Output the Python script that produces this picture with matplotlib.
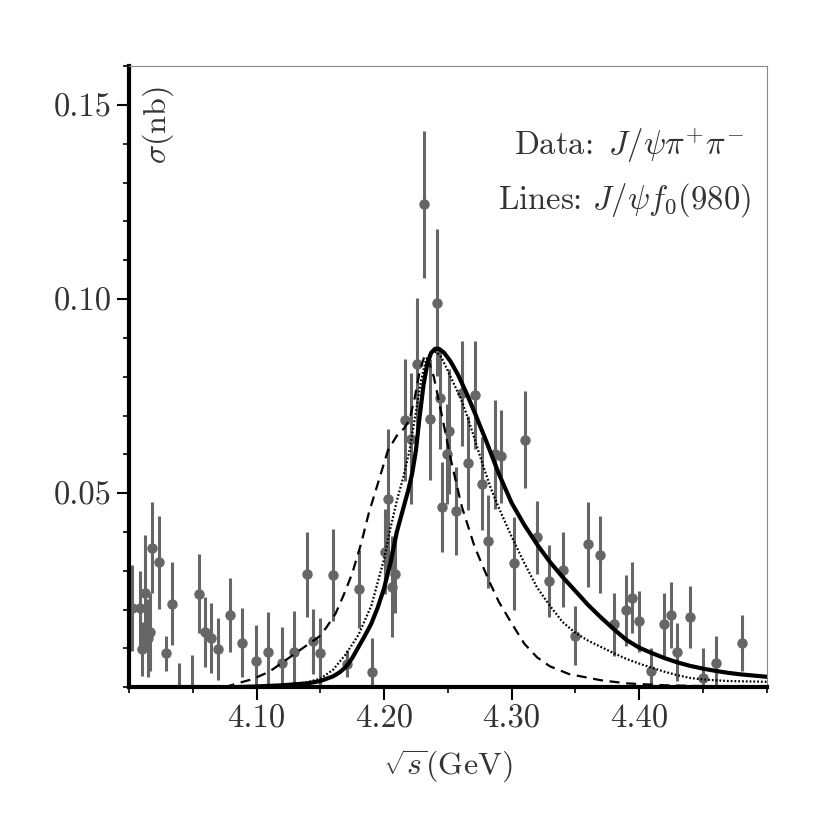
import matplotlib
matplotlib.use("Agg")
import matplotlib.pyplot as plt
from matplotlib.ticker import MultipleLocator

plt.rcParams["mathtext.fontset"] = "cm"
plt.rcParams["font.family"] = "serif"
plt.rcParams["font.serif"] = ["cmr10", "DejaVu Serif"]
plt.rcParams["axes.unicode_minus"] = False

# -----------------------------
# datos: J/psi pi+ pi-
# -----------------------------
x_data = [4.0027, 4.0089, 4.0102, 4.0128, 4.0148, 4.0162, 4.0183, 4.0233, 4.0290, 4.0337,
          4.0392, 4.0493, 4.0548, 4.0592, 4.0640, 4.0698, 4.0794, 4.0888, 4.0995, 4.1092,
          4.1196, 4.1290, 4.1398, 4.1442, 4.1494, 4.1598, 4.1706, 4.1806, 4.1905, 4.2008,
          4.2034, 4.2062, 4.2089, 4.2163, 4.2210, 4.2255, 4.2310, 4.2363, 4.2417, 4.2438,
          4.2458, 4.2495, 4.2511, 4.2568, 4.2614, 4.2659, 4.2712, 4.2771, 4.2817, 4.2870,
          4.2914, 4.3018, 4.3104, 4.3201, 4.3295, 4.3405, 4.3499, 4.3603, 4.3697, 4.3805,
          4.3901, 4.3948, 4.4003, 4.4095, 4.4199, 4.4249, 4.4296, 4.4403, 4.4500, 4.4604,
          4.4808]
y_data = [0.0204, 0.0204, 0.0098, 0.0243, 0.0127, 0.0143, 0.0359, 0.0322, 0.0087, 0.0215,
          -0.0030, -0.0030, 0.0241, 0.0143, 0.0127, 0.0099, 0.0186, 0.0115, 0.0068, 0.0091,
          0.0063, 0.0091, 0.0291, 0.0118, 0.0088, 0.0289, 0.0061, 0.0253, 0.0038, 0.0349,
          0.0485, 0.0259, 0.0291, 0.0689, 0.0640, 0.0833, 0.1244, 0.0690, 0.0991, 0.0744,
          0.0464, 0.0600, 0.0659, 0.0454, 0.0757, 0.0578, 0.0753, 0.0524, 0.0376, 0.0600,
          0.0595, 0.0319, 0.0637, 0.0386, 0.0273, 0.0303, 0.0133, 0.0368, 0.0341, 0.0162,
          0.0198, 0.0231, 0.0170, 0.0042, 0.0162, 0.0186, 0.0091, 0.0181, 0.0024, 0.0063,
          0.0115]
y_err = [0.0110, 0.0095, 0.0070, 0.0150, 0.0100, 0.0100, 0.0117, 0.0120, 0.0045, 0.0107,
         0.0093, 0.0112, 0.0101, 0.0090, 0.0090, 0.0080, 0.0095, 0.0088, 0.0093, 0.0102,
         0.0093, 0.0105, 0.0110, 0.0083, 0.0090, 0.0118, 0.0035, 0.0100, 0.0088, 0.0110,
         0.0180, 0.0130, 0.0100, 0.0157, 0.0169, 0.0170, 0.0190, 0.0155, 0.0190, 0.0130,
         0.0116, 0.0129, 0.0160, 0.0114, 0.0135, 0.0122, 0.0138, 0.0120, 0.0120, 0.0140,
         0.0120, 0.0120, 0.0125, 0.0095, 0.0093, 0.0097, 0.0075, 0.0110, 0.0099, 0.0082,
         0.0091, 0.0092, 0.0079, 0.0059, 0.0082, 0.0084, 0.0075, 0.0081, 0.0077, 0.0068,
         0.0072]

# -----------------------------
# lineas: J/psi f0(980)
# -----------------------------
x_solid = [4.080, 4.100, 4.120, 4.140, 4.150, 4.160, 4.165, 4.170, 4.175, 4.180, 4.185,
           4.190, 4.195, 4.200, 4.205, 4.210, 4.215, 4.219, 4.222, 4.225, 4.228, 4.231,
           4.234, 4.237, 4.240, 4.243, 4.247, 4.252, 4.258, 4.265, 4.272, 4.280, 4.290,
           4.300, 4.310, 4.320, 4.330, 4.340, 4.350, 4.360, 4.370, 4.380, 4.390, 4.400,
           4.410, 4.420, 4.430, 4.440, 4.450, 4.460, 4.470, 4.480, 4.490, 4.500]
y_solid = [0.0000, 0.0002, 0.0005, 0.0010, 0.0016, 0.0028, 0.0038, 0.0052, 0.0075, 0.0104,
           0.0133, 0.0164, 0.0205, 0.0255, 0.0320, 0.0400, 0.0460, 0.0508, 0.0550, 0.0610,
           0.0700, 0.0780, 0.0835, 0.0862, 0.0872, 0.0872, 0.0862, 0.0840, 0.0805, 0.0755,
           0.0700, 0.0635, 0.0550, 0.0475, 0.0418, 0.0368, 0.0323, 0.0284, 0.0248, 0.0212,
           0.0180, 0.0150, 0.0122, 0.0102, 0.0088, 0.0075, 0.0064, 0.0055, 0.0048, 0.0042,
           0.0037, 0.0033, 0.0030, 0.0027]

x_dotted = [4.100, 4.120, 4.140, 4.150, 4.160, 4.170, 4.180, 4.185, 4.190, 4.195, 4.200,
            4.205, 4.210, 4.215, 4.220, 4.225, 4.229, 4.233, 4.237, 4.241, 4.245, 4.250,
            4.255, 4.260, 4.265, 4.270, 4.277, 4.284, 4.290, 4.300, 4.310, 4.320, 4.330,
            4.340, 4.350, 4.360, 4.370, 4.380, 4.390, 4.400, 4.410, 4.420, 4.430, 4.440,
            4.450, 4.470, 4.500]
y_dotted = [0.0002, 0.0005, 0.0013, 0.0022, 0.0045, 0.0085, 0.0135, 0.0173, 0.0210, 0.0270,
            0.0330, 0.0410, 0.0480, 0.0540, 0.0610, 0.0710, 0.0790, 0.0845, 0.0862, 0.0864,
            0.0850, 0.0815, 0.0780, 0.0745, 0.0700, 0.0650, 0.0577, 0.0510, 0.0462, 0.0388,
            0.0320, 0.0257, 0.0210, 0.0168, 0.0140, 0.0120, 0.0104, 0.0088, 0.0073, 0.0061,
            0.0050, 0.0040, 0.0031, 0.0024, 0.0020, 0.0016, 0.0014]

x_dashed = [4.075, 4.085, 4.097, 4.110, 4.123, 4.135, 4.149, 4.155, 4.162, 4.168, 4.175,
            4.182, 4.188, 4.196, 4.203, 4.210, 4.216, 4.220, 4.224, 4.228, 4.232, 4.235,
            4.239, 4.245, 4.253, 4.261, 4.271, 4.282, 4.290, 4.300, 4.310, 4.320, 4.330,
            4.345, 4.370, 4.390, 4.420, 4.450, 4.500]
y_dashed = [0.0000, 0.0010, 0.0021, 0.0040, 0.0070, 0.0098, 0.0130, 0.0155, 0.0190, 0.0235,
            0.0293, 0.0370, 0.0448, 0.0534, 0.0610, 0.0648, 0.0668, 0.0690, 0.0745, 0.0815,
            0.0856, 0.0840, 0.0800, 0.0705, 0.0577, 0.0465, 0.0362, 0.0276, 0.0220, 0.0165,
            0.0112, 0.0077, 0.0054, 0.0034, 0.0018, 0.0010, 0.0005, 0.0003, 0.0002]

x_ticks = [4.10, 4.20, 4.30, 4.40]
x_ticklabels = ["4.10", "4.20", "4.30", "4.40"]
y_ticks = [0.05, 0.10, 0.15]
y_ticklabels = ["0.05", "0.10", "0.15"]

# -----------------------------
# grafica
# -----------------------------
fig = plt.figure(figsize=(8.27, 8.27), dpi=100)
ax = fig.add_axes([0.156, 0.169, 0.771, 0.751])

ax.errorbar(x_data, y_data, yerr=y_err, fmt="o", color="#666666", ms=6.5,
            elinewidth=2.2, capsize=0, zorder=2)

ax.plot(x_dashed, y_dashed, color="black", lw=1.6, dashes=(4.5, 3), zorder=3)
ax.plot(x_dotted, y_dotted, color="black", lw=1.6, dashes=(0.8, 0.9), zorder=3)
ax.plot(x_solid, y_solid, color="black", lw=3.0, zorder=4)

ax.set_xlim(4.0, 4.5)
ax.set_ylim(0.0, 0.16)

ax.set_xticks(x_ticks)
ax.set_xticklabels(x_ticklabels)
ax.set_yticks(y_ticks)
ax.set_yticklabels(y_ticklabels)
ax.xaxis.set_minor_locator(MultipleLocator(0.05))
ax.yaxis.set_minor_locator(MultipleLocator(0.01))
ax.tick_params(which="major", direction="out", length=9, width=1.5, labelsize=23.5,
               colors="black", labelcolor="#333333")
ax.tick_params(which="minor", direction="out", length=4, width=1.2)

for lado in ["left", "bottom"]:
    ax.spines[lado].set_linewidth(3)
    ax.spines[lado].set_color("black")
for lado in ["top", "right"]:
    ax.spines[lado].set_linewidth(0.8)
    ax.spines[lado].set_color("#888888")

ax.text(0.046, 0.968, r"$\sigma(\mathrm{nb})$", rotation=90, ha="center", va="top",
        fontsize=23, color="#333333", transform=ax.transAxes)
ax.text(0.9655, 0.873, r"Data: $\,J/\psi\pi^{+}\pi^{-}$", ha="right", va="center",
        fontsize=23.5, color="#333333", transform=ax.transAxes)
ax.text(0.976, 0.784, r"Lines: $J/\psi f_0(980)$", ha="right", va="center",
        fontsize=23.5, color="#333333", transform=ax.transAxes)

ax.set_xlabel(r"$\sqrt{s}(\mathrm{GeV})$", fontsize=23, color="#333333", labelpad=10)

fig.savefig("out.png", dpi=100)
